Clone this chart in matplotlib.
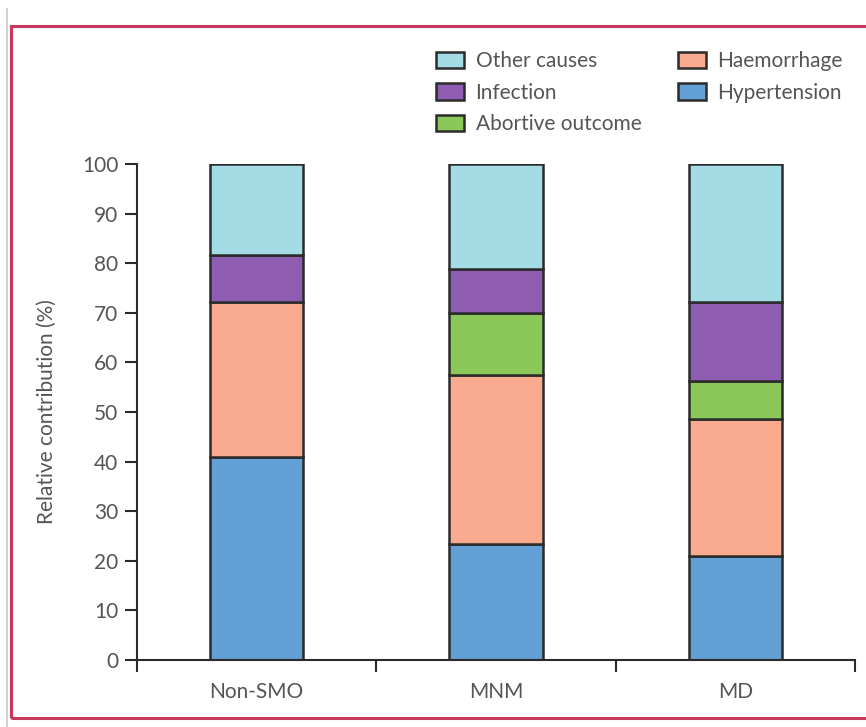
import matplotlib.pyplot as plt
from matplotlib.patches import Rectangle, Patch
from matplotlib.lines import Line2D
import numpy as np

# data (relative contribution, %)
groups = ['Non-SMO', 'MNM', 'MD']
hypertension = [41.0, 23.4, 21.0]
haemorrhage = [31.2, 34.0, 27.6]
abortive = [0.0, 12.5, 7.7]
infection = [9.4, 8.9, 15.9]
other = [18.4, 21.2, 27.8]

series = [
    ('Hypertension', hypertension, '#62a0d6'),
    ('Haemorrhage', haemorrhage, '#f9aa8f'),
    ('Abortive outcome', abortive, '#8bc85a'),
    ('Infection', infection, '#8e5db2'),
    ('Other causes', other, '#a4dce6'),
]

plt.rcParams['font.family'] = ['Lato', 'DejaVu Sans']
text_col = '#555555'
edge_col = '#2b2b2b'
fs = 15

fig = plt.figure(figsize=(8.66, 7.27), dpi=100)
ax = fig.add_axes([137 / 866, 1 - 660 / 727, (855 - 137) / 866, (660 - 164) / 727])

x = np.arange(len(groups)) + 0.5
bottom = np.zeros(len(groups))
handles = {}
for name, vals, col in series:
    vals = np.array(vals)
    mask = vals > 0
    ax.bar(x[mask], vals[mask], 0.39, bottom=bottom[mask], color=col,
           edgecolor=edge_col, linewidth=1.8, zorder=2)
    handles[name] = Patch(facecolor=col, edgecolor=edge_col, linewidth=1.8)
    bottom += vals

ax.set_xlim(0, 3)
ax.set_ylim(0, 100)
ax.set_yticks(range(0, 101, 10))
ax.set_xticks([0, 1, 2, 3])
ax.set_xticklabels([])
ax.set_xticks(x, minor=True)
ax.set_xticklabels(groups, minor=True)
ax.tick_params(axis='x', which='major', length=8.5, width=1.5, direction='out', color=edge_col)
ax.tick_params(axis='x', which='minor', length=0, pad=16, labelsize=fs, labelcolor=text_col)
ax.tick_params(axis='y', length=8.5, width=1.5, direction='out', color=edge_col,
               labelsize=fs, labelcolor=text_col, pad=5)
for s in ['top', 'right']:
    ax.spines[s].set_visible(False)
for s in ['left', 'bottom']:
    ax.spines[s].set_linewidth(1.5)
    ax.spines[s].set_color(edge_col)
ax.set_ylabel('Relative contribution (%)', fontsize=fs, color=text_col, labelpad=18)

order = ['Other causes', 'Infection', 'Abortive outcome', 'Haemorrhage', 'Hypertension']
fig.legend([handles[n] for n in order], order, loc='upper left',
           bbox_to_anchor=(436 / 866, 1 - 51 / 727), ncol=2, frameon=False,
           fontsize=fs, labelcolor=text_col, handlelength=1.35, handleheight=0.82,
           handletextpad=0.55, labelspacing=0.56, columnspacing=1.75, borderpad=0,
           borderaxespad=0)

# red frame and grey rule around the figure
fig.patches.append(Rectangle((11 / 866, 1 - 718 / 727), 1.0, (718 - 26) / 727,
                             transform=fig.transFigure, fill=False,
                             edgecolor='#c8385a', linewidth=2.2))
fig.lines.append(Line2D([7 / 866, 7 / 866], [0, 1 - 9 / 727], transform=fig.transFigure,
                        color='#c8c8c8', linewidth=1.2))

fig.savefig('out.png', dpi=100)
